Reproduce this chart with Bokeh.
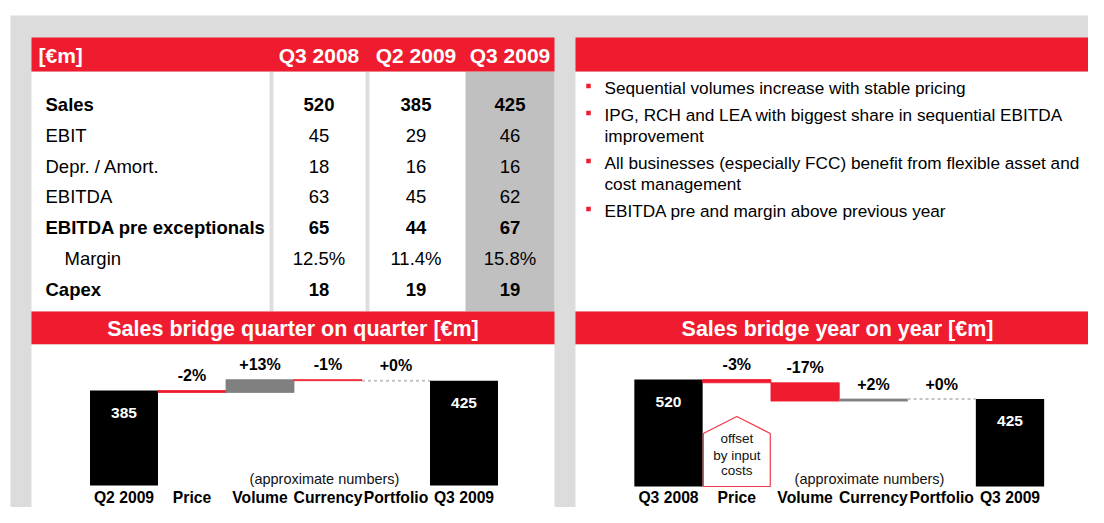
from bokeh.plotting import figure
from bokeh.models import Range1d
from bokeh.core.properties import value
from bokeh.embed import file_html
from bokeh.resources import INLINE

# ---------------- data ----------------
table_columns = ["Q3 2008", "Q2 2009", "Q3 2009"]
row_labels = ["Sales", "EBIT", "Depr. / Amort.", "EBITDA",
              "EBITDA pre exceptionals", "Margin", "Capex"]
sales = [520, 385, 425]
ebit = [45, 29, 46]
depr_amort = [18, 16, 16]
ebitda = [63, 45, 62]
ebitda_pre = [65, 44, 67]
margin_pct = [12.5, 11.4, 15.8]
capex = [18, 19, 19]

bullets = [
    ["Sequential volumes increase with stable pricing"],
    ["IPG, RCH and LEA with biggest share in sequential EBITDA", "improvement"],
    ["All businesses (especially FCC) benefit from flexible asset and", "cost management"],
    ["EBITDA pre and margin above previous year"],
]

qoq_title = "Sales bridge quarter on quarter [€m]"
qoq_categories = ["Q2 2009", "Price", "Volume", "Currency", "Portfolio", "Q3 2009"]
qoq_start = 385
qoq_deltas = [-8, 52, -4, 0]
qoq_pct = ["-2%", "+13%", "-1%", "+0%"]
qoq_end = 425

yoy_title = "Sales bridge year on year [€m]"
yoy_categories = ["Q3 2008", "Price", "Volume", "Currency", "Portfolio", "Q3 2009"]
yoy_start = 520
yoy_deltas = [-16, -89, 10, 0]
yoy_pct = ["-3%", "-17%", "+2%", "+0%"]
yoy_end = 425

note_text = "(approximate numbers)"
callout_lines = ["offset", "by input", "costs"]
callout_top = 340       # apex of the callout (in €m of the y-o-y scale)
callout_shoulder = 258

# ---------------- style ----------------
RED = "#ee1c2e"
BG = "#dcdcdc"
HL = "#c0c0c0"
DIV = "#dedede"
GREY_BAR = "#808080"
FONT = value("Liberation Sans")

W, H = 1088, 507
X0, Y0 = 0, 0

p = figure(width=W, height=H, x_range=Range1d(X0, X0 + W), y_range=Range1d(Y0 + H, Y0),
           x_axis_location=None, y_axis_location=None, toolbar_location=None,
           output_backend="svg", min_border=0)
p.grid.visible = False
p.outline_line_color = None
p.background_fill_color = "white"
p.border_fill_color = "white"


def box(l, r, t, b, color):
    p.quad(left=[l], right=[r], top=[t], bottom=[b], fill_color=color, line_color=None)


def txt(xs, ys, texts, size, bold=False, color="black", align="left", **kw):
    p.text(x=xs, y=ys, text=texts, text_font=FONT, text_font_size=value(f"{size}px"),
           text_font_style="bold" if bold else "normal", text_color=color,
           text_align=align, text_baseline="middle", **kw)


# background and panels
box(10, 1110, 15, 530, BG)
box(31, 554, 71, 311, "white")
box(465, 554, 71, 311, HL)
box(269, 273, 71, 311, DIV)
box(365, 369, 71, 311, DIV)
box(31, 554, 37, 71, RED)
box(575, 1099, 71, 311, "white")
box(575, 1099, 37, 71, RED)
box(31, 554, 311, 344, RED)
box(31, 554, 344, 509, "white")
box(575, 1099, 311, 344, RED)
box(575, 1099, 344, 509, "white")

# ---------------- table ----------------
col_centers = [318.5, 415.5, 509.5]
txt([38], [55], ["[€m]"], 21, bold=True, color="white")
txt(col_centers, [55] * 3, table_columns, 21, bold=True, color="white", align="center")

bold_rows = {"Sales", "EBITDA pre exceptionals", "Capex"}
indented_rows = {"Margin"}
row_values = [sales, ebit, depr_amort, ebitda, ebitda_pre, margin_pct, capex]
row_y0, row_step = 104, 30.8
for i, (lab, vals) in enumerate(zip(row_labels, row_values)):
    y = row_y0 + i * row_step
    bold = lab in bold_rows
    x = 64 if lab in indented_rows else 45
    txt([x], [y], [lab], 18.5, bold=bold)
    if lab == "Margin":
        strs = [f"{v:.1f}%" for v in vals]
    else:
        strs = [str(v) for v in vals]
    txt(col_centers, [y] * 3, strs, 18.5, bold=bold, align="center")

# ---------------- bullets ----------------
y = 87
for item in bullets:
    p.rect(x=[588], y=[y - 1.5], width=4.5, height=4.5, fill_color=RED, line_color=None)
    for j, line in enumerate(item):
        txt([604], [y], [line], 17.2)
        if j < len(item) - 1:
            y += 21
    y += 27

# ---------------- waterfalls ----------------
def waterfall(name, title, cats, start, deltas, pcts, end, center0_px, unit_px,
              base_px, px_per_eur, panel_l, panel_r, note_x):
    xr, yr = name + "_x", name + "_y"
    p.extra_x_ranges[xr] = Range1d((X0 - center0_px) / unit_px, (X0 + W - center0_px) / unit_px)
    p.extra_y_ranges[yr] = Range1d((base_px - (Y0 + H)) / px_per_eur, (base_px - Y0) / px_per_eur)
    n = len(cats)

    txt([(panel_l + panel_r) / 2], [328], [title], 21.5, bold=True, color="white", align="center")

    p.vbar(x=[0, n - 1], width=1, bottom=0, top=[start, end], fill_color="black",
           line_color=None, x_range_name=xr, y_range_name=yr)
    txt([0, n - 1], [start - 22 / px_per_eur, end - 22 / px_per_eur],
        [str(start), str(end)], 15.5, bold=True, color="white", align="center",
        x_range_name=xr, y_range_name=yr)

    level = start
    for i, (d, lab) in enumerate(zip(deltas, pcts), start=1):
        new = level + d
        if d == 0:
            p.segment(x0=[i - 0.5], x1=[i + 0.5], y0=[level], y1=[level], line_color="#c4c4c4",
                      line_width=2, line_dash="3 3", x_range_name=xr, y_range_name=yr)
        else:
            col = RED if d < 0 else GREY_BAR
            p.vbar(x=[i], width=1, bottom=[min(level, new)], top=[max(level, new)],
                   fill_color=col, line_color=col, line_width=0.8,
                   x_range_name=xr, y_range_name=yr)
        txt([i], [max(level, new) + 15 / px_per_eur], [lab], 16, bold=True, align="center",
            x_range_name=xr, y_range_name=yr)
        level = new

    txt(list(range(n)), [497] * n, cats, 15.7, bold=True, align="center", x_range_name=xr)
    txt([note_x], [478], [note_text], 14.5, color="#111111", align="center")
    return xr, yr


waterfall("qoq", qoq_title, qoq_categories, qoq_start, qoq_deltas, qoq_pct, qoq_end,
          123.5, 68.0, 485, 95 / 385, 31, 554, 324)
xr, yr = waterfall("yoy", yoy_title, yoy_categories, yoy_start, yoy_deltas, yoy_pct, yoy_end,
                   668.0, 68.3, 486, 107 / 520, 575, 1099, 869)

# callout under y-o-y price step
pi = yoy_categories.index("Price")
p.patch(x=[pi - 0.49, pi - 0.49, pi, pi + 0.49, pi + 0.49],
        y=[0, callout_shoulder, callout_top, callout_shoulder, 0],
        fill_color="white", line_color="#f0374a", line_width=1.2,
        x_range_name=xr, y_range_name=yr)
txt([pi] * 3, [438, 455, 470], callout_lines, 13.5, color="#111111", align="center",
    x_range_name=xr)

open("out.html", "w").write(file_html(p, INLINE))
